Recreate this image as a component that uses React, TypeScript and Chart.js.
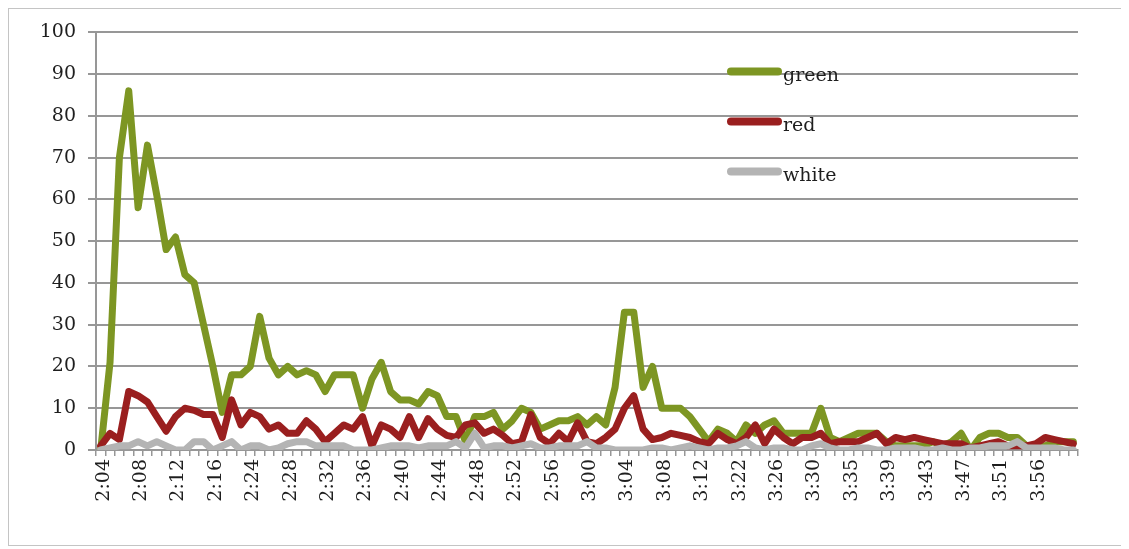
import React, { useEffect, useRef } from "react";
import { Chart, registerables } from "chart.js";

Chart.register(...registerables);

// Time of each sample (every 4th one is printed on the axis)
const timeLabels = [
  "2:04", "2:05", "2:06", "2:07", "2:08", "2:09", "2:10", "2:11", "2:12", "2:13", "2:14", "2:15", "2:16", "2:18", "2:20", "2:22",
  "2:24", "2:25", "2:26", "2:27", "2:28", "2:29", "2:30", "2:31", "2:32", "2:33", "2:34", "2:35", "2:36", "2:37", "2:38", "2:39",
  "2:40", "2:41", "2:42", "2:43", "2:44", "2:45", "2:46", "2:47", "2:48", "2:49", "2:50", "2:51", "2:52", "2:53", "2:54", "2:55",
  "2:56", "2:57", "2:58", "2:59", "3:00", "3:01", "3:02", "3:03", "3:04", "3:05", "3:06", "3:07", "3:08", "3:09", "3:10", "3:11",
  "3:12", "3:14", "3:17", "3:19", "3:22", "3:23", "3:24", "3:25", "3:26", "3:27", "3:28", "3:29", "3:30", "3:31", "3:32", "3:34",
  "3:35", "3:36", "3:37", "3:38", "3:39", "3:40", "3:41", "3:42", "3:43", "3:44", "3:45", "3:46", "3:47", "3:48", "3:49", "3:50",
  "3:51", "3:52", "3:54", "3:55", "3:56", "3:57", "3:58", "3:59", "4:00",
];

const greenCounts = [
  0, 21, 70, 86, 58, 73, 61, 48, 51, 42,
  40, 30, 20, 9, 18, 18, 20, 32, 22, 18,
  20, 18, 19, 18, 14, 18, 18, 18, 10, 17,
  21, 14, 12, 12, 11, 14, 13, 8, 8, 2,
  8, 8, 9, 5, 7, 10, 9, 5, 6, 7,
  7, 8, 6, 8, 6, 15, 33, 33, 15, 20,
  10, 10, 10, 8, 5, 2, 5, 4, 2, 6,
  4, 6, 7, 4, 4, 4, 4, 10, 3, 2,
  3, 4, 4, 4, 2, 1, 1, 1, 1, 2,
  1, 2, 4, 0, 3, 4, 4, 3, 3, 1,
  1, 1, 2, 2, 2,
];

const redCounts = [
  1, 4, 2.5, 14, 13, 11.5, 8, 4.5, 8, 10,
  9.5, 8.5, 8.5, 3, 12, 6, 9, 8, 5, 6,
  4, 4, 7, 5, 2, 4, 6, 5, 8, 1,
  6, 5, 3, 8, 3, 7.5, 5, 3.5, 3, 6,
  6.5, 4, 5, 3.5, 1.5, 2, 8.5, 3, 1.5, 4,
  2, 6.5, 2, 1.5, 3, 5, 10, 13, 5, 2.5,
  3, 4, 3.5, 3, 2, 1.5, 4, 2.5, 1.5, 3,
  6, 1.5, 5, 3, 1.5, 3, 3, 4, 1.5, 2,
  2, 2, 3, 4, 1.5, 3, 2.5, 3, 2.5, 2,
  1.5, 1.5, 1.5, 0.5, 1, 1.5, 2, 1, 1, 1,
  1.5, 3, 2.5, 2, 1.5,
];

const whiteCounts = [
  0, 0.5, 1, 1, 2, 1, 2, 1, 0, 0,
  2, 2, 0, 1, 2, 0, 1, 1, 0, 0.5,
  1.5, 2, 2, 1, 1, 1, 1, 0, 0, 0,
  0.5, 1, 1, 1, 0.5, 1, 1, 1, 2, 0.5,
  4, 0.5, 1, 1, 0.5, 1, 1.5, 0.5, 0.5, 1,
  1, 1, 2, 0.5, 0.5, 0, 0, 0, 0, 0.5,
  0.5, 0, 0.5, 1, 0.5, 0, 0.5, 0.5, 1, 2,
  0.5, 0, 0.5, 0.5, 0, 0, 1, 1.5, 0.5, 0,
  0, 0.5, 0.5, 0, 0, 0.5, 0.5, 0.5, 0, 0,
  0.5, 0, 0, 0.5, 0.5, 1, 1, 1, 2, 0.5,
  0.5, 0.5, 0.5, 0, 0,
];

const seriesNames = ["green", "red", "white"];
const seriesColors = ["#7d9623", "#9a1f1f", "#b4b4b4"];

const FONT_FAMILY = '"DejaVu Serif", "Liberation Serif", serif';
const TEXT_COLOR = "#1e1e1e";
const GRID_COLOR = "#979797";

// Legend drawn inside the plot area, top right
const insideLegend = {
  id: "insideLegend",
  afterDraw(chart: any) {
    const { ctx, chartArea } = chart;
    const x0 = chartArea.left + 631;
    const x1 = x0 + 55;
    ctx.save();
    chart.data.datasets.forEach((ds: any, i: number) => {
      const cy = chartArea.top + 39 + i * 50;
      ctx.strokeStyle = ds.borderColor;
      ctx.lineWidth = 8;
      ctx.lineCap = "round";
      ctx.beginPath();
      ctx.moveTo(x0 + 4, cy);
      ctx.lineTo(x1 - 4, cy);
      ctx.stroke();
      ctx.fillStyle = TEXT_COLOR;
      ctx.font = `19px ${FONT_FAMILY}`;
      ctx.textAlign = "left";
      ctx.textBaseline = "alphabetic";
      ctx.fillText(ds.label, x1 + 1, cy + 9.5);
    });
    ctx.restore();
  },
};

export default function App() {
  const canvasRef = useRef<HTMLCanvasElement | null>(null);

  useEffect(() => {
    if (!canvasRef.current) return;
    const seriesData = [greenCounts, redCounts, whiteCounts];
    const lastIndex = timeLabels.length - 1;
    const chart = new Chart(canvasRef.current, {
      type: "line",
      data: {
        labels: timeLabels,
        datasets: seriesNames.map((name, i) => ({
          label: name,
          data: seriesData[i],
          borderColor: seriesColors[i],
          backgroundColor: seriesColors[i],
          borderWidth: 7,
          borderJoinStyle: "round" as const,
          borderCapStyle: "round" as const,
          pointRadius: 0,
          tension: 0,
          fill: false,
          order: 3 - i,
        })),
      },
      options: {
        animation: false,
        responsive: true,
        maintainAspectRatio: false,
        layout: { padding: { top: 23, right: 50, left: 0, bottom: 0 } },
        plugins: {
          legend: { display: false },
          tooltip: { enabled: false },
        },
        scales: {
          x: {
            type: "category",
            offset: true,
            afterFit(scale: any) {
              scale.height = 95;
            },
            grid: {
              display: true,
              drawOnChartArea: false,
              drawTicks: true,
              tickLength: 6,
              offset: true,
              color: GRID_COLOR,
              lineWidth: 1.5,
            },
            border: { display: true, color: GRID_COLOR, width: 2 },
            ticks: {
              autoSkip: false,
              minRotation: 90,
              maxRotation: 90,
              padding: 3,
              labelOffset: 3,
              color: TEXT_COLOR,
              font: { family: FONT_FAMILY, size: 19 },
              callback(this: any, value: any, index: number) {
                // every 4th time, leaving the final slot unlabelled
                return index % 4 === 0 && index < lastIndex ? this.getLabelForValue(value) : "";
              },
            },
          },
          y: {
            min: 0,
            max: 100,
            afterFit(scale: any) {
              scale.width = 87;
            },
            grid: {
              color: GRID_COLOR,
              lineWidth: 2,
              tickLength: 8,
            },
            border: { display: true, color: GRID_COLOR, width: 2 },
            ticks: {
              stepSize: 10,
              padding: 12,
              color: TEXT_COLOR,
              font: { family: FONT_FAMILY, size: 19 },
            },
          },
        },
      },
      plugins: [insideLegend],
    });
    return () => chart.destroy();
  }, []);

  return (
    <div
      style={{
        position: "relative",
        width: 1119,
        height: 536,
        borderTop: "1px solid #c4c4c4",
        borderLeft: "1px solid #c4c4c4",
        borderBottom: "1px solid #c4c4c4",
        background: "#ffffff",
      }}
    >
      <canvas ref={canvasRef} />
    </div>
  );
}
